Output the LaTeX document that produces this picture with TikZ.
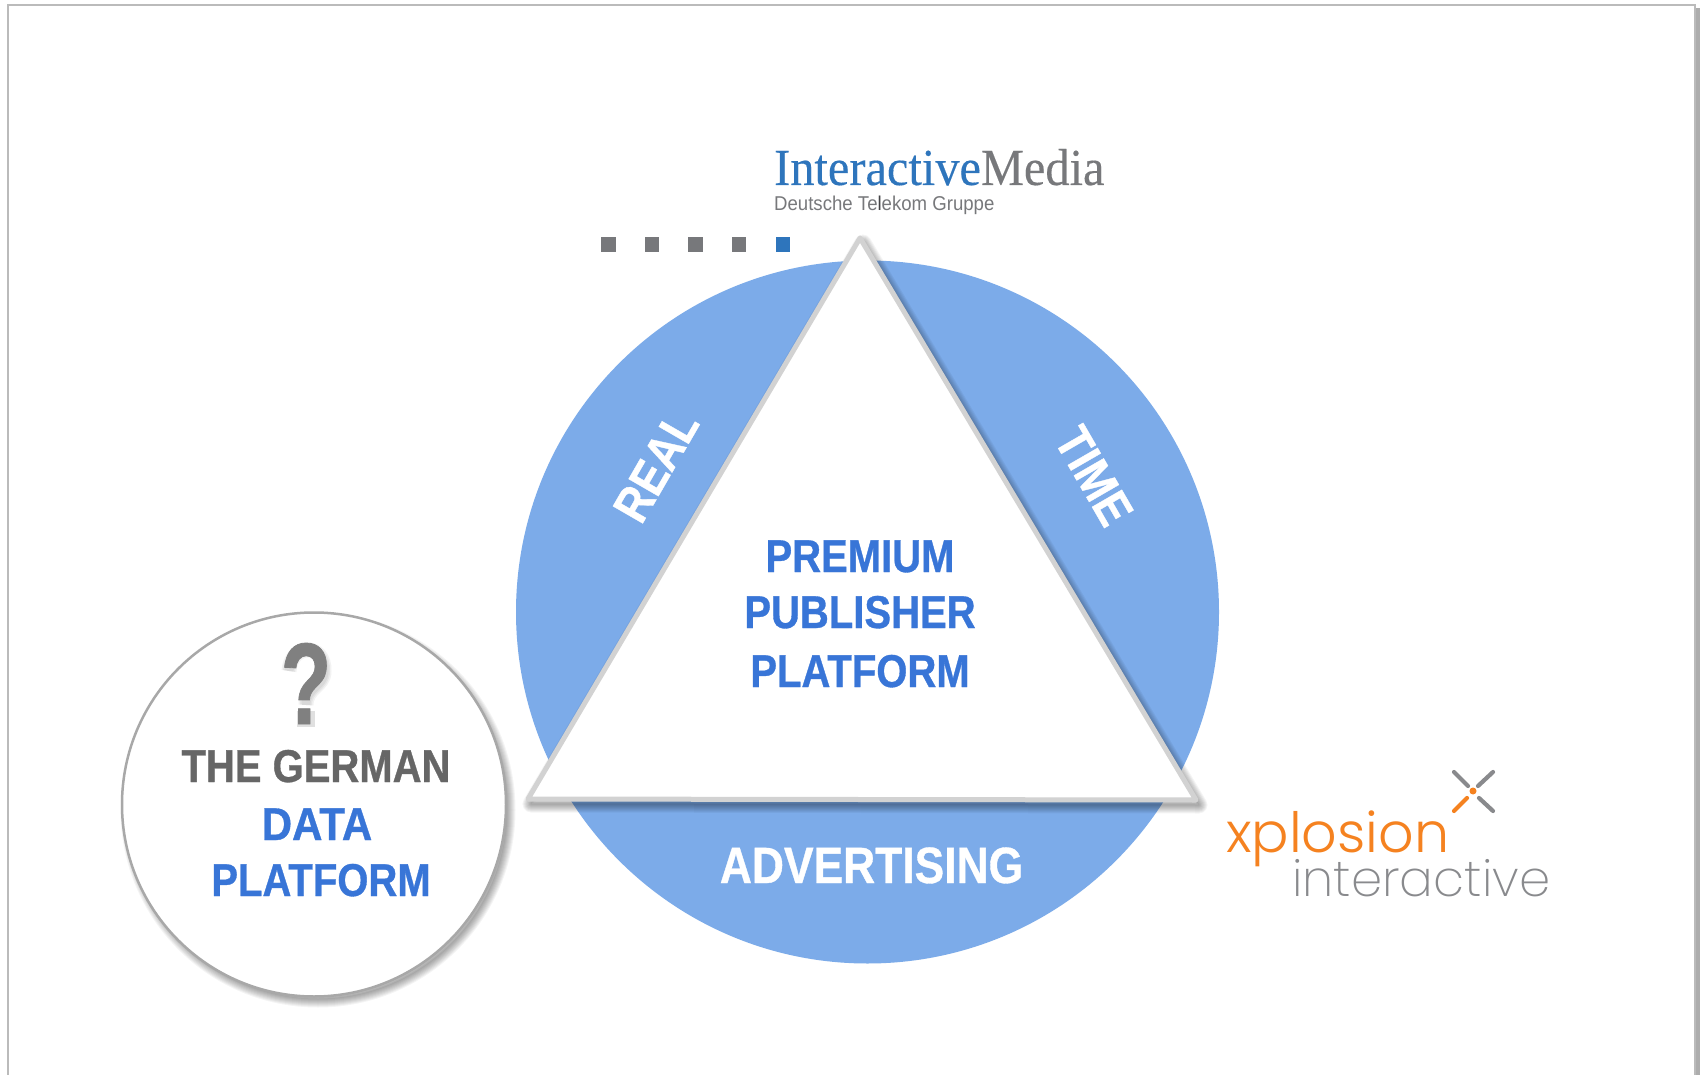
\documentclass[tikz,border=0pt]{standalone}
\usepackage{fontspec}
\setmainfont{Liberation Sans}
\newfontfamily\condfont[FakeStretch=0.87,FakeBold=0.7]{Liberation Sans Bold}
\newfontfamily\imfont[FakeStretch=0.93,FakeBold=0.25]{Liberation Serif}
\newfontfamily\dtfont[FakeStretch=0.93]{Liberation Sans}
\newfontfamily\lightfont{Poppins Light}
\newfontfamily\thinfont{Poppins ExtraLight}
\definecolor{discblue}{HTML}{7CABE9}
\definecolor{textblue}{HTML}{3875D7}
\definecolor{darkgray}{HTML}{666666}
\definecolor{qgray}{HTML}{808080}
\definecolor{edgegray}{HTML}{D2D2D2}
\definecolor{rimgray}{HTML}{A8A8A8}
\definecolor{framegray}{HTML}{BBBBBB}
\definecolor{imblue}{HTML}{2E75BC}
\definecolor{imgray}{HTML}{77787B}
\definecolor{xorange}{HTML}{F58220}
\definecolor{xgray}{HTML}{898A8D}
\tikzset{
  x=1pt,y=-1pt,
  headline/.style={anchor=base,font=\condfont\fontsize{46}{46}\selectfont,text=textblue,inner sep=0pt},
  grayhead/.style={headline,text=darkgray},
  wordwhite/.style={anchor=center,font=\condfont\fontsize{50}{50}\selectfont,text=white,inner sep=0pt},
  dotsq/.style={fill=imgray,draw=none,minimum size=14.5pt,inner sep=0pt},
  armx/.style={line width=4.2pt,line cap=round,xgray},
}
\begin{document}
\begin{tikzpicture}
\useasboundingbox (0,0) rectangle (1700,1075);
\fill[white] (0,0) rectangle (1700,1075);
% page frame
\fill[black!32] (1695,8) rectangle (1700,1075);
\draw[framegray,line width=2pt] (8,1080) -- (8,5.5) -- (1695,5.5) -- (1695,1080);
% disc
\node[circle,fill=discblue,draw=none,minimum size=703pt,inner sep=0pt] (disc) at (867.5,612) {};
% triangle shadow
\coordinate (ta) at (860,238);
\coordinate (tl) at (528,799);
\coordinate (tr) at (1196,800);
\foreach \w in {1,3,...,17}{
  \draw[black,opacity=.045,line width=\w pt,line join=round] ([shift={(3,5)}]ta) -- ([shift={(3,5)}]tr) -- ([shift={(3,5)}]tl) -- cycle;
}
\draw[edgegray,fill=white,line width=5pt,line join=round] (ta) -- (tr) -- (tl) -- cycle;
% small circle shadow
\foreach \w in {1,3,...,17}{
  \draw[black,opacity=.045,line width=\w pt] (318,810) circle[radius=189];
}
\node[circle,fill=white,draw=rimgray,line width=2.5pt,minimum size=384pt,inner sep=0pt] (small) at (314,804.5) {};
% dots
\node[dotsq] (d1) at (608.5,244.5) {};
\node[dotsq] (d2) at (652,244.5) {};
\node[dotsq] (d3) at (695.5,244.5) {};
\node[dotsq] (d4) at (739,244.5) {};
\node[dotsq,fill=imblue] (d5) at (783,244.5) {};
% main labels
\node[headline] (p1) at (860,572) {PREMIUM};
\node[headline] (p2) at (860,628) {PUBLISHER};
\node[headline] (p3) at (860,687) {PLATFORM};
\node[wordwhite,rotate=60] (real) at (656,466) {REAL};
\node[wordwhite,rotate=-60] (time) at (1094,476) {TIME};
\node[headline,font=\condfont\fontsize{51}{51}\selectfont,text=white] (adv) at (871.5,883) {ADVERTISING};
% small circle text: soft shadow of the question mark, then the mark
\begin{scope}[shift={(-1,3)}]
  \foreach \w in {9,12,15}{
    \draw[black,opacity=.05,line width=\w pt] (290,668) .. controls (292,640) and (326,640) .. (325,668) .. controls (325,684) and (307,684) .. (307,702);
  }
  \fill[black,opacity=.12] (298,708) rectangle (316,724);
\end{scope}
\node[anchor=base,inner sep=0pt,text=qgray,xscale=.82,transform shape,font=\condfont\fontsize{116}{116}\selectfont] (q) at (306,724) {?};
\node[grayhead] (g1) at (316,782) {THE GERMAN};
\node[headline,xscale=1.05,transform shape] (g2) at (317,840) {DATA};
\node[headline] (g3) at (321,896) {PLATFORM};
% InteractiveMedia logo
\node[anchor=base west,inner sep=0pt,font=\imfont\fontsize{52}{52}\selectfont] (im) at (774,185) {\textcolor{imblue}{Interactive}\textcolor{imgray}{Media}};
\node[anchor=base west,inner sep=0pt,text=imgray,font=\dtfont\fontsize{20}{20}\selectfont] (dt) at (774,211) {Deutsche Te{\color{imgray!55!black}l}ekom Gruppe};
% xplosion logo
\node[anchor=base west,inner sep=0pt,text=xorange,font=\lightfont\fontsize{55.5}{55.5}\selectfont] (xp) at (1226,852) {xplosion};
\node[anchor=base west,inner sep=0pt,text=xgray,font=\thinfont\fontsize{50}{50}\selectfont] (xi) at (1292,896) {interactive};
\coordinate (xc) at (1473,791);
\draw[armx] (1454,772) -- (1468,786);
\draw[armx] (1493,772) -- (1478,786);
\draw[armx] (1479,798) -- (1493,811);
\draw[armx,xorange] (1467,798) -- (1454,811);
\fill[xorange] (xc) circle[radius=3.5];
\end{tikzpicture}
\end{document}
